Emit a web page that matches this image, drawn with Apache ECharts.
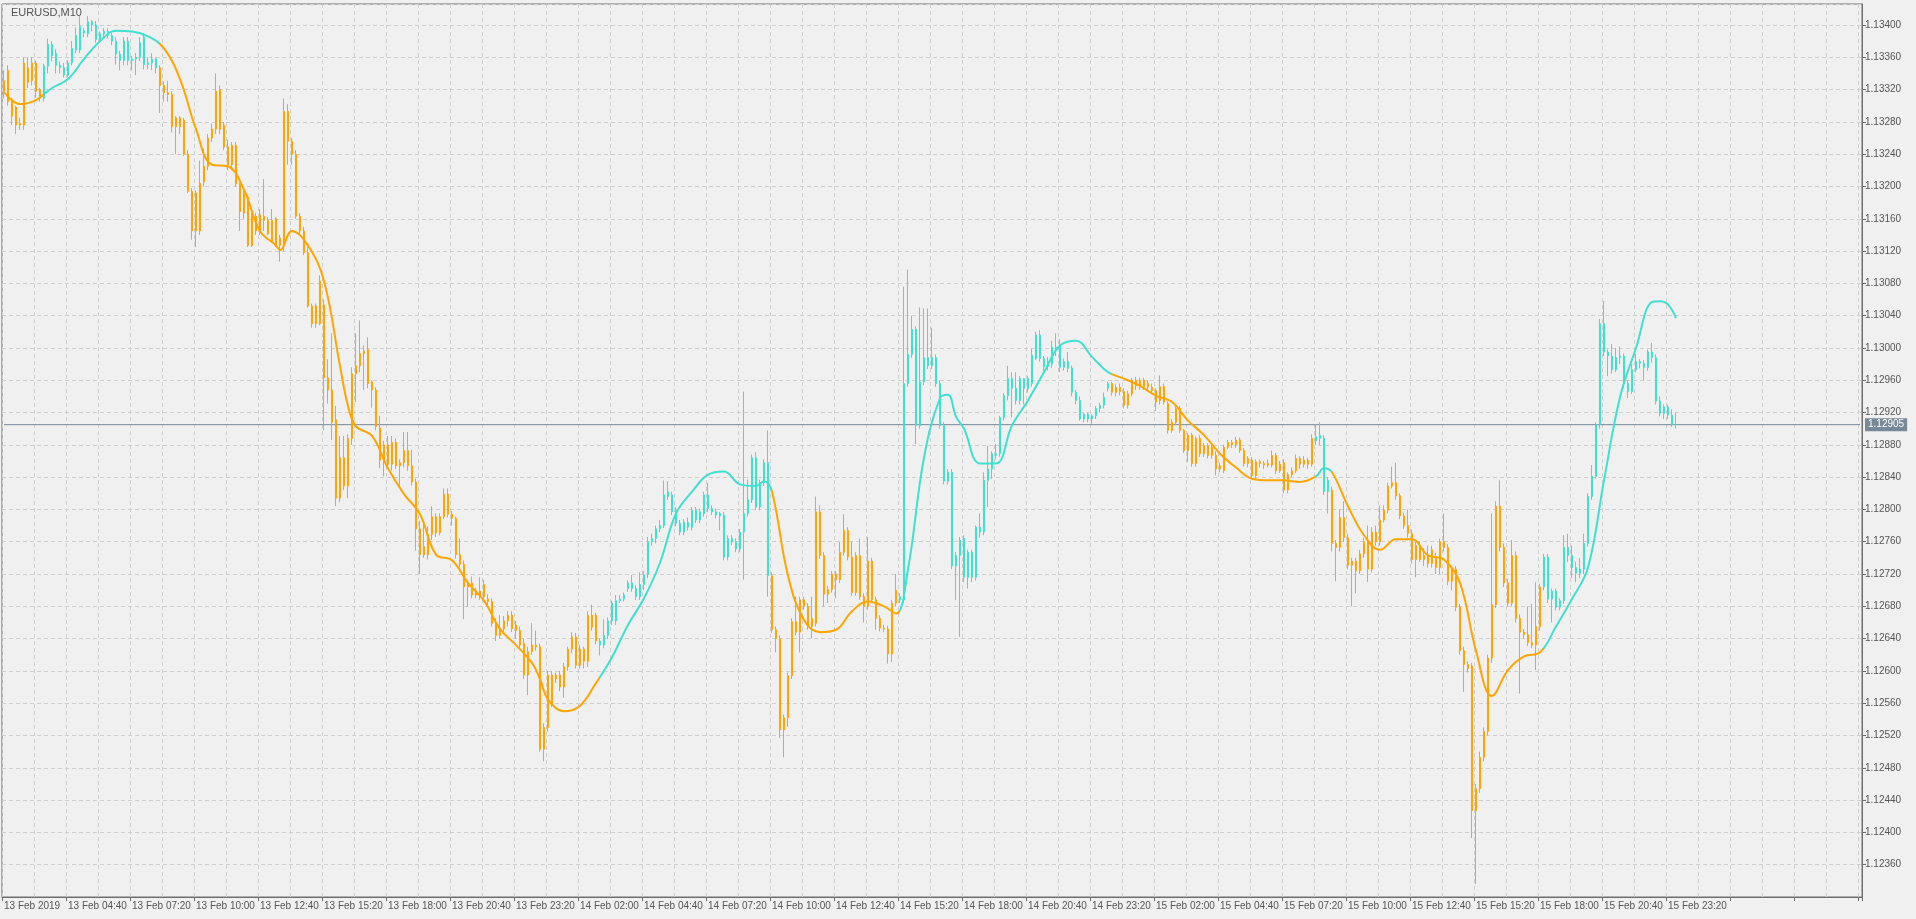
<!DOCTYPE html>
<html><head><meta charset="utf-8">
<script src="https://cdn.jsdelivr.net/npm/echarts@6/dist/echarts.min.js"></script>
<style>html,body{margin:0;padding:0;background:#f0f0f0}#c{width:1916px;height:919px}</style>
</head><body><div id="c"></div>
<script>
// prices in points: price = 1.1 + v/100000 ; rows [open, close, low, high]
const ohlc = [
[3318,3331,3309,3344],[3344,3305,3300,3350],[3305,3287,3276,3310],[3298,3276,3265,3300],[3276,3278,3270,3285],
[3276,3353,3270,3360],[3329,3347,3322,3360],[3331,3353,3325,3360],[3353,3318,3310,3356],[3320,3311,3305,3322],
[3309,3349,3305,3352],[3349,3376,3340,3383],[3362,3376,3355,3380],[3365,3350,3340,3370],[3350,3347,3340,3355],
[3347,3338,3335,3353],[3338,3353,3335,3356],[3353,3371,3350,3380],[3369,3387,3365,3397],[3369,3398,3365,3411],
[3390,3393,3385,3396],[3389,3404,3385,3411],[3404,3400,3392,3406],[3400,3382,3378,3405],[3382,3389,3378,3392],
[3389,3392,3385,3396],[3392,3387,3383,3396],[3387,3380,3375,3390],[3380,3364,3351,3385],[3364,3356,3344,3368],
[3356,3380,3350,3385],[3380,3356,3350,3385],[3356,3358,3344,3362],[3358,3360,3338,3365],[3360,3378,3355,3385],
[3385,3351,3345,3390],[3351,3353,3345,3360],[3353,3358,3344,3365],[3358,3347,3340,3360],[3347,3325,3291,3350],
[3325,3316,3305,3330],[3316,3314,3305,3331],[3314,3274,3267,3318],[3274,3285,3240,3287],[3285,3274,3265,3287],
[3282,3240,3238,3285],[3240,3194,3192,3245],[3194,3145,3134,3198],[3192,3145,3125,3195],[3145,3204,3140,3232],
[3206,3225,3200,3247],[3225,3260,3220,3265],[3260,3271,3255,3278],[3271,3318,3265,3340],[3320,3271,3265,3325],
[3276,3249,3245,3280],[3249,3227,3220,3258],[3251,3227,3220,3255],[3251,3203,3200,3255],[3203,3169,3145,3205],
[3191,3167,3160,3195],[3187,3127,3125,3190],[3163,3127,3125,3167],[3163,3145,3140,3167],[3145,3165,3140,3172],
[3163,3158,3145,3209],[3158,3141,3140,3162],[3158,3132,3130,3172],[3160,3127,3125,3162],[3127,3136,3107,3140],
[3127,3293,3120,3309],[3293,3256,3227,3302],[3256,3240,3227,3260],[3240,3163,3160,3245],[3163,3145,3140,3167],
[3145,3118,3115,3150],[3118,3052,3050,3125],[3052,3030,3025,3055],[3052,3030,3025,3055],[3030,3083,3028,3090],
[3053,2963,2898,3060],[2963,2948,2931,2986],[2948,2908,2886,3018],[2911,2814,2804,2928],[2814,2864,2809,2891],
[2864,2829,2824,2891],[2829,2888,2814,2893],[2888,2968,2880,2976],[2968,2978,2933,3018],[2978,2993,2970,3034],
[2993,2996,2948,3003],[2998,2956,2950,3013],[2958,2948,2926,2960],[2948,2903,2898,2951],[2901,2861,2851,2916],
[2861,2880,2841,2885],[2880,2856,2850,2891],[2856,2883,2848,2891],[2883,2854,2850,2888],[2854,2858,2829,2862],
[2858,2873,2852,2896],[2873,2854,2848,2896],[2854,2834,2830,2874],[2834,2776,2749,2838],[2776,2744,2720,2786],
[2744,2754,2740,2784],[2744,2769,2738,2779],[2769,2791,2762,2804],[2791,2771,2766,2795],[2771,2791,2768,2795],
[2791,2819,2788,2826],[2819,2794,2790,2826],[2794,2789,2780,2798],[2789,2744,2739,2791],[2744,2732,2728,2764],
[2732,2704,2664,2737],[2704,2709,2679,2712],[2709,2694,2690,2717],[2694,2699,2690,2703],[2699,2692,2688,2716],
[2692,2707,2685,2713],[2689,2686,2680,2695],[2686,2659,2655,2690],[2659,2644,2637,2665],[2644,2652,2640,2669],
[2652,2662,2648,2668],[2662,2669,2655,2674],[2669,2652,2648,2674],[2657,2650,2640,2662],[2650,2632,2628,2655],
[2634,2595,2590,2640],[2595,2624,2570,2630],[2624,2632,2620,2659],[2632,2630,2625,2650],[2630,2503,2500,2634],
[2503,2530,2488,2535],[2530,2595,2525,2600],[2595,2560,2555,2600],[2590,2595,2585,2598],[2595,2580,2575,2600],
[2580,2605,2567,2610],[2605,2627,2600,2630],[2627,2642,2622,2648],[2642,2607,2603,2647],[2607,2627,2603,2632],
[2627,2612,2603,2630],[2612,2669,2605,2674],[2669,2654,2650,2682],[2669,2637,2633,2672],[2637,2632,2619,2640],
[2632,2644,2628,2664],[2644,2662,2640,2666],[2662,2684,2657,2687],[2662,2687,2657,2694],[2687,2689,2684,2694],
[2689,2694,2686,2697],[2702,2709,2698,2712],[2709,2702,2698,2719],[2702,2692,2688,2706],[2692,2707,2688,2722],
[2707,2719,2700,2724],
[2720,2760,2715,2766],[2760,2764,2755,2770],[2764,2776,2758,2780],[2776,2780,2772,2787],[2780,2818,2777,2836],
[2822,2816,2812,2835],[2818,2797,2793,2822],[2799,2783,2779,2803],[2783,2772,2768,2787],[2772,2784,2768,2788],
[2784,2778,2774,2790],[2778,2799,2774,2803],[2799,2787,2783,2803],[2787,2797,2783,2801],[2795,2818,2791,2822],
[2818,2801,2797,2833],[2801,2797,2793,2805],[2797,2793,2789,2801],[2795,2792,2774,2797],[2793,2741,2737,2797],
[2741,2764,2737,2768],[2764,2760,2756,2768],[2760,2751,2747,2764],[2751,2772,2747,2776],[2772,2795,2713,2946],
[2795,2812,2791,2837],[2812,2864,2808,2868],[2864,2803,2799,2871],[2803,2833,2799,2837],[2833,2858,2829,2862],
[2858,2718,2692,2898],[2718,2651,2647,2722],[2651,2640,2623,2655],[2640,2527,2517,2644],[2527,2542,2493,2546],
[2542,2594,2531,2598],[2594,2661,2590,2665],[2661,2648,2644,2692],[2648,2688,2623,2692],[2688,2680,2676,2692],
[2680,2655,2651,2684],[2655,2665,2640,2692],[2659,2797,2655,2816],[2797,2743,2739,2805],[2743,2695,2680,2747],
[2695,2701,2684,2705],[2701,2720,2697,2724],[2720,2713,2690,2724],[2713,2747,2709,2760],[2747,2774,2743,2794],
[2774,2741,2737,2778],[2741,2697,2693,2760],[2697,2743,2693,2747],[2743,2692,2688,2764],[2692,2680,2660,2696],
[2680,2736,2676,2766],[2736,2688,2684,2740],[2688,2665,2651,2692],[2665,2653,2649,2669],[2653,2652,2648,2657],
[2652,2621,2609,2656],[2621,2684,2611,2688],[2684,2700,2680,2720],[2692,2688,2684,2696],[2688,2956,2684,3076],
[2956,2992,2952,3097],[2992,3023,2988,3040],[3023,2904,2881,3027],[2904,2958,2900,3050],[2958,2988,2954,3049],
[2988,2978,2974,3049],[2978,2988,2974,3025],[2988,2956,2952,2992],[2956,2904,2900,2960],[2904,2835,2831,2908],
[2835,2846,2831,2850],[2846,2730,2726,2850],[2730,2743,2688,2747],[2743,2762,2642,2766],
[2764,2716,2710,2768],[2716,2747,2702,2750],[2747,2716,2710,2750],[2716,2778,2712,2780],[2778,2772,2765,2795],
[2772,2836,2768,2846],[2836,2850,2803,2879],[2850,2869,2838,2872],[2869,2867,2862,2881],[2869,2914,2865,2916],
[2914,2941,2910,2944],[2941,2962,2935,2978],[2962,2950,2914,2970],[2950,2935,2930,2970],[2935,2962,2930,2965],
[2962,2950,2930,2962],[2950,2962,2945,2965],[2956,2991,2952,2999],[2987,3016,2985,3020],[3016,2987,2983,3022],
[2987,2977,2970,2990],[2977,2983,2972,2989],[2980,3001,2975,3009],[3001,2997,2990,3018],[3003,2976,2970,3011],
[2976,2983,2972,2987],[2983,2975,2970,2995],[2975,2945,2940,2978],[2945,2935,2930,2948],[2935,2912,2910,2940],
[2912,2918,2908,2920],[2918,2912,2908,2920],[2912,2916,2906,2918],[2916,2925,2912,2928],[2925,2929,2920,2932],
[2929,2939,2925,2945],[2950,2956,2946,2958],[2956,2945,2941,2958],[2945,2951,2940,2955],[2951,2946,2941,2956],
[2946,2929,2925,2950],[2929,2943,2925,2947],[2943,2960,2940,2963],[2960,2953,2948,2964],[2953,2960,2948,2963],
[2960,2952,2948,2963],[2952,2956,2948,2960],[2951,2947,2943,2956],[2947,2933,2922,2950],[2935,2952,2930,2966],
[2952,2933,2930,2956],[2931,2898,2894,2934],[2898,2908,2895,2912],[2908,2925,2905,2928],[2925,2898,2895,2928],
[2898,2873,2870,2900],[2873,2892,2859,2895],[2892,2857,2853,2895],[2857,2888,2853,2890],[2888,2869,2865,2892],
[2869,2879,2865,2882],[2879,2867,2863,2882],[2867,2877,2863,2880],[2867,2850,2842,2872],[2850,2854,2846,2858],
[2848,2877,2845,2880],[2877,2883,2875,2886],[2883,2880,2876,2886],[2880,2886,2876,2890],[2886,2873,2870,2889],
[2873,2857,2853,2876],[2857,2863,2852,2866],[2861,2842,2838,2865],[2842,2859,2838,2862],[2859,2857,2852,2862],
[2857,2855,2850,2860],[2855,2857,2852,2862],[2855,2867,2852,2873],[2867,2848,2844,2870],[2848,2856,2845,2860],
[2858,2824,2820,2862],[2824,2843,2820,2846],[2843,2848,2840,2852],[2848,2863,2845,2868],[2863,2856,2850,2866],
[2856,2861,2852,2866],[2861,2856,2850,2864],[2856,2888,2853,2893],[2885,2890,2880,2906],[2888,2892,2880,2908],
[2888,2822,2818,2892],[2822,2836,2795,2840],[2824,2758,2748,2828],[2758,2753,2711,2762],[2753,2790,2748,2800],
[2790,2765,2760,2810],[2765,2731,2726,2770],[2731,2736,2680,2740],[2736,2724,2696,2740],[2724,2745,2720,2750],
[2745,2760,2740,2765],[2760,2726,2710,2780],[2726,2772,2722,2778],[2772,2760,2755,2780],[2760,2787,2755,2805],
[2787,2799,2784,2805],[2799,2829,2795,2833],[2829,2833,2826,2853],[2833,2817,2812,2858],[2817,2792,2788,2820],
[2792,2780,2776,2796],[2780,2770,2765,2800],[2770,2738,2733,2775],[2738,2755,2716,2760],[2755,2738,2735,2760],
[2738,2743,2730,2752],[2743,2733,2728,2755],[2733,2750,2728,2755],[2741,2728,2720,2746],[2728,2760,2720,2764],
[2760,2753,2748,2795],[2753,2711,2706,2757],[2711,2726,2700,2730],[2726,2679,2674,2730],[2679,2625,2620,2683],
[2625,2608,2574,2630],[2608,2603,2598,2612],[2606,2427,2393,2610],[2427,2454,2336,2460],[2454,2493,2449,2500],
[2493,2525,2488,2530],[2525,2616,2520,2620],[2616,2682,2610,2795],[2682,2804,2678,2810],[2804,2753,2748,2836],
[2753,2709,2704,2758],[2709,2684,2680,2714],[2684,2743,2680,2762],[2743,2665,2660,2748],[2665,2648,2572,2670],
[2648,2645,2640,2652],[2645,2635,2631,2680],[2635,2632,2628,2683],[2632,2655,2601,2710],[2655,2704,2650,2708],
[2704,2741,2700,2745],[2741,2689,2684,2745],[2689,2699,2660,2702],[2699,2679,2675,2702],[2679,2687,2675,2690],
[2687,2753,2683,2768],[2753,2743,2735,2770],[2743,2728,2715,2755],[2728,2721,2710,2735],[2721,2726,2715,2740],
[2726,2758,2720,2770],[2758,2816,2754,2820],[2816,2841,2812,2855],[2841,2905,2838,2908],[2905,3030,2900,3036],
[3030,2995,2990,3058],[2995,2990,2965,2998],[2990,2973,2968,3005],[2973,2988,2970,3000],[2988,2990,2980,3002],
[2990,2956,2950,2993],[2956,2946,2938,2960],[2946,2973,2943,2980],[2973,2983,2970,2993],[2983,2981,2975,2986],
[2981,2976,2960,2985],[2976,2995,2972,2998],[2995,2988,2982,3006],[2988,2934,2930,2992],[2934,2919,2915,2940],
[2919,2927,2912,2930],[2927,2917,2912,2930],[2917,2905,2902,2924],[2905,2905,2900,2920]
];
// moving-average line (bar index, points)
const maIdx = [0,4,8,12,16,20,24,28,32,36,40,44,48,52,56,60,64,68,69,72,76,80,84,86,88,92,96,100,104,108,112,116,120,124,128,132,134,136,140,144,148,152,156,160,164,168,172,176,180,184,188,190,192,196,200,204,208,212,216,220,223,226,230,234,236,238,240,244,248,252,256,260,264,268,272,276,280,284,288,292,296,300,304,308,312,316,320,324,328,330,332,336,340,344,348,352,356,360,364,368,372,376,380,384,388,392,396,400,404,408,412,414,416,418];
const maVal = [3317,3302,3307,3322,3333,3358,3380,3393,3392,3386,3371,3333,3271,3227,3225,3196,3145,3127,3121,3145,3127,3083,2978,2928,2903,2891,2851,2819,2794,2744,2737,2709,2687,2652,2632,2610,2590,2565,2550,2557,2585,2617,2657,2690,2734,2795,2822,2843,2847,2831,2829,2835,2822,2718,2663,2648,2651,2674,2686,2680,2671,2726,2864,2938,2942,2915,2900,2857,2857,2904,2935,2970,3003,3009,2989,2970,2962,2953,2941,2933,2910,2892,2869,2852,2838,2836,2836,2834,2841,2851,2846,2804,2768,2750,2763,2763,2743,2738,2709,2625,2569,2601,2618,2623,2655,2689,2728,2836,2939,3000,3057,3058,3054,3037];
// bar indexes where the trend colour flips
const trendFlips = [10,39,149,192,224,277,328,332,385];
const timeLabels = ['13 Feb 2019','13 Feb 04:40','13 Feb 07:20','13 Feb 10:00','13 Feb 12:40','13 Feb 15:20','13 Feb 18:00','13 Feb 20:40','13 Feb 23:20','14 Feb 02:00','14 Feb 04:40','14 Feb 07:20','14 Feb 10:00','14 Feb 12:40','14 Feb 15:20','14 Feb 18:00','14 Feb 20:40','14 Feb 23:20','15 Feb 02:00','15 Feb 04:40','15 Feb 07:20','15 Feb 10:00','15 Feb 12:40','15 Feb 15:20','15 Feb 18:00','15 Feb 20:40','15 Feb 23:20'];
const lastPrice = 2905;

const UP='#40E0D0', DN='#FFA500';
const SLOTS = 465;
const px = v => +(1.1 + v/100000).toFixed(5);
function isUp(i){let up=false;for(const f of trendFlips){if(i>=f)up=!up;}return up;}
const cats = Array.from({length:SLOTS},(_,i)=>i);
const candles = ohlc.map((r,i)=>{
  const o=r[0],c=r[1],l=Math.min(r[2],o,c),h=Math.max(r[3],o,c);
  const col=isUp(i)?UP:DN;
  return {value:[px(o),px(c),px(l),px(h)],itemStyle:{color:col,color0:col,borderColor:col,borderColor0:col}};
});
const ma = new Array(ohlc.length).fill(null);
maIdx.forEach((k,j)=>{ma[k]=px(maVal[j]);});
const priceLine = new Array(SLOTS).fill(px(lastPrice));
const pieces=[];let s=0,up=false;
for(const f of trendFlips.concat([SLOTS])){pieces.push({gte:s,lt:f,color:up?UP:DN});s=f;up=!up;}

const chart = echarts.init(document.getElementById('c'),null,{renderer:'canvas'});
const FONT='Liberation Sans';
chart.setOption({
  animation:false,
  backgroundColor:'#f0f0f0',
  title:{text:'EURUSD,M10',left:6,top:2,textStyle:{fontSize:11,fontWeight:'normal',color:'#555',fontFamily:FONT}},
  grid:{left:2,right:54,top:4,bottom:22,show:true,borderColor:'#6e6e6e',borderWidth:1,backgroundColor:'transparent'},
  visualMap:{show:false,type:'piecewise',dimension:0,seriesIndex:2,pieces:pieces},
  xAxis:{type:'category',data:cats,boundaryGap:true,
    axisLine:{lineStyle:{color:'#6e6e6e'}},
    axisTick:{show:true,length:4,interval:(i)=>i%16===0,lineStyle:{color:'#6e6e6e'}},
    axisLabel:{interval:(i)=>i%16===0&&timeLabels[i/16]!==undefined,align:'left',margin:4,fontSize:10,color:'#555',fontFamily:FONT,
      formatter:(v,i)=>timeLabels[i/16]||''},
    splitLine:{show:true,interval:(i)=>i%8===0,lineStyle:{color:'#cfcfcf',type:[4,3]}}},
  yAxis:{type:'value',position:'right',min:1.1232,max:1.13426,interval:0.0004,
    axisLine:{show:true,lineStyle:{color:'#6e6e6e'}},
    axisTick:{show:true,length:4,lineStyle:{color:'#6e6e6e'}},
    axisLabel:{showMinLabel:false,showMaxLabel:false,margin:3,fontSize:10,color:'#555',fontFamily:FONT,formatter:v=>v.toFixed(5)},
    splitLine:{show:true,lineStyle:{color:'#cfcfcf',type:[4,3]}}},
  series:[
    {type:'line',data:priceLine,symbol:'none',silent:true,lineStyle:{color:'#778899',width:1},itemStyle:{color:'#778899'},z:1,
      endLabel:{show:true,distance:5,formatter:()=>px(lastPrice).toFixed(5),backgroundColor:'#778899',color:'#fff',padding:[2,3,1,3],fontSize:10,fontFamily:FONT}},
    {type:'candlestick',data:candles,barWidth:2,itemStyle:{borderWidth:1},z:2},
    {type:'line',data:ma,connectNulls:true,smooth:0.4,symbol:'none',lineStyle:{width:2},z:3}
  ]
});
</script></body></html>
